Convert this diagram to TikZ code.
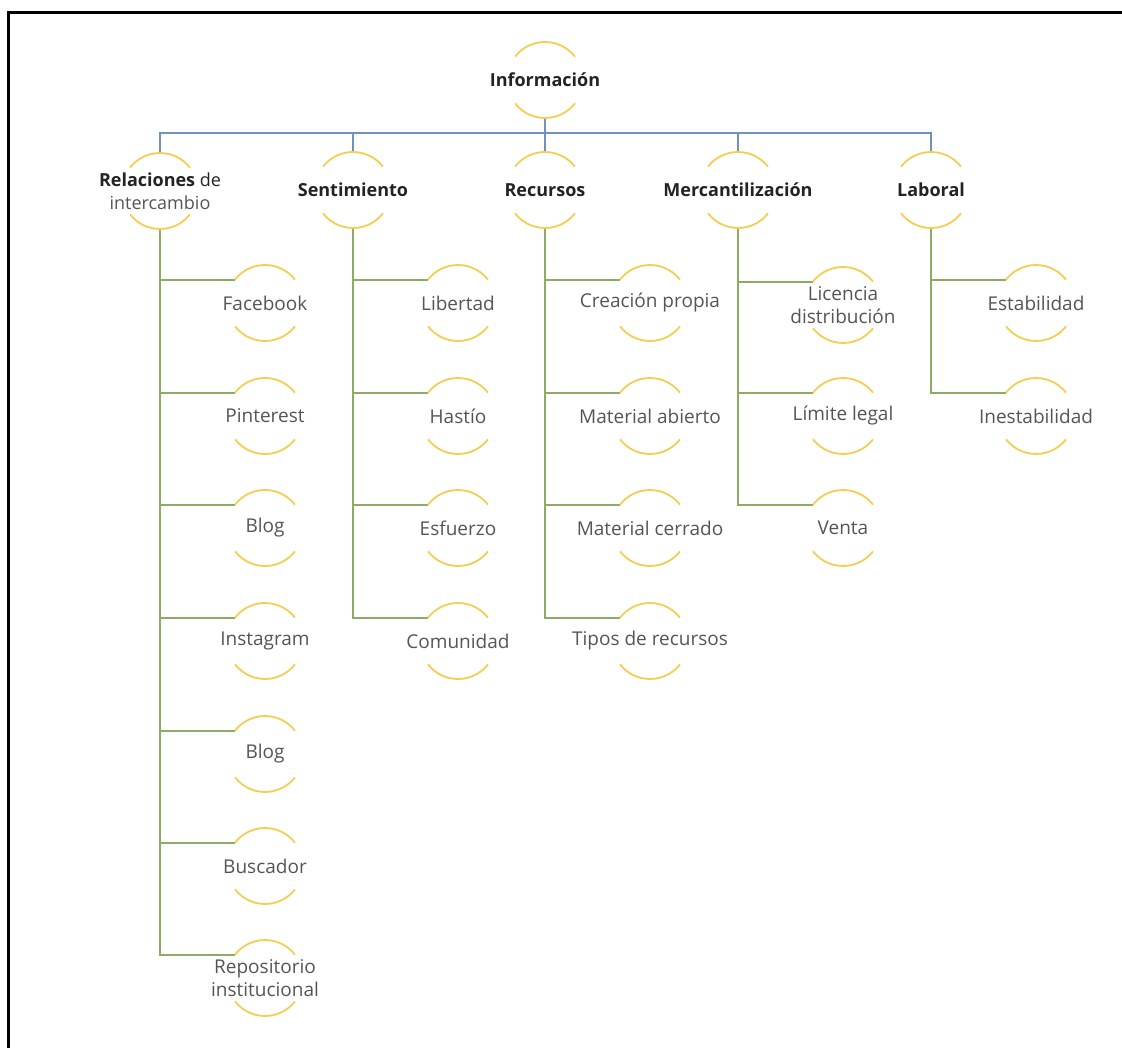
\documentclass[tikz,border=0pt]{standalone}
\usepackage{fontspec}
\setmainfont{Open Sans}
\definecolor{busblue}{RGB}{112,146,192}
\definecolor{brgreen}{RGB}{140,172,100}
\definecolor{arcyel}{RGB}{244,206,80}
\definecolor{leafgray}{RGB}{85,85,85}
\definecolor{catdark}{RGB}{35,35,35}
\tikzset{
  catnode/.style={align=center,text=catdark,font=\fontsize{18}{23}\selectfont,inner sep=0pt},
  leafnode/.style={align=center,text=leafgray,font=\fontsize{19}{23}\selectfont,inner sep=0pt},
  arcst/.style={draw=arcyel,line width=1.8pt},
  busline/.style={draw=busblue,line width=2.8pt},
  brline/.style={draw=brgreen,line width=2.2pt},
}
\newcommand\ringarcs[1]{%
  \draw[arcst] ([shift={(38:38pt)}]#1.center) arc (38:142:38pt);
  \draw[arcst] ([shift={(218:38pt)}]#1.center) arc (218:322:38pt);}
\newcommand\branch[2]{%
  \draw[brline] ([yshift=-38pt]#1.center) |- ([shift={(142:38pt)}]#2.center);}
\begin{document}
\begin{tikzpicture}[x=1pt,y=-1pt]
\useasboundingbox[fill=white] (0,0) rectangle (1122,1048);
% frame
\draw[line width=3pt,black] (8.5,1048) -- (8.5,12.5) -- (1122,12.5);
% root
\node[catnode] (info) at (545,80) {\textbf{Información}};
% categories
\node[catnode] (rel) at (160,191) {\textbf{Relaciones} de\\\color{leafgray}intercambio};
\node[catnode] (sen) at (353,190) {\textbf{Sentimiento}};
\node[catnode] (rec) at (545,190) {\textbf{Recursos}};
\node[catnode] (mer) at (738,190) {\textbf{Mercantilización}};
\node[catnode] (lab) at (931,190) {\textbf{Laboral}};
% leaves
\node[leafnode] (r1) at (265,303) {Facebook};
\node[leafnode] (r2) at (265,416) {Pinterest};
\node[leafnode] (r3) at (265,528) {Blog};
\node[leafnode] (r4) at (265,641) {Instagram};
\node[leafnode] (r5) at (265,754) {Blog};
\node[leafnode] (r6) at (265,866) {Buscador};
\node[leafnode] (r7) at (265,978) {Repositorio\\institucional};
\node[leafnode] (s1) at (458,303) {Libertad};
\node[leafnode] (s2) at (458,416) {Hastío};
\node[leafnode] (s3) at (458,528) {Esfuerzo};
\node[leafnode] (s4) at (458,641) {Comunidad};
\node[leafnode] (c1) at (650,303) {Creación propia};
\node[leafnode] (c2) at (650,416) {Material abierto};
\node[leafnode] (c3) at (650,528) {Material cerrado};
\node[leafnode] (c4) at (650,641) {Tipos de recursos};
\node[leafnode] (m1) at (843,305) {Licencia\\distribución};
\node[leafnode] (m2) at (843,416) {Límite legal};
\node[leafnode] (m3) at (843,528) {Venta};
\node[leafnode] (l1) at (1036,303) {Estabilidad};
\node[leafnode] (l2) at (1036,416) {Inestabilidad};
% bus
\coordinate (bus) at (545,133);
\draw[busline] ([yshift=-38pt]info.center) -- (bus);
\foreach \c in {rel,sen,rec,mer,lab}{\draw[busline] ([yshift=38pt]\c.center) |- (bus);}
% branches
\foreach \l in {r1,r2,r3,r4,r5,r6,r7}{\branch{rel}{\l}}
\foreach \l in {s1,s2,s3,s4}{\branch{sen}{\l}}
\foreach \l in {c1,c2,c3,c4}{\branch{rec}{\l}}
\foreach \l in {m1,m2,m3}{\branch{mer}{\l}}
\foreach \l in {l1,l2}{\branch{lab}{\l}}
% arcs
\foreach \n in {info,rel,sen,rec,mer,lab,r1,r2,r3,r4,r5,r6,r7,s1,s2,s3,s4,c1,c2,c3,c4,m1,m2,m3,l1,l2}{\ringarcs{\n}}
\end{tikzpicture}
\end{document}
